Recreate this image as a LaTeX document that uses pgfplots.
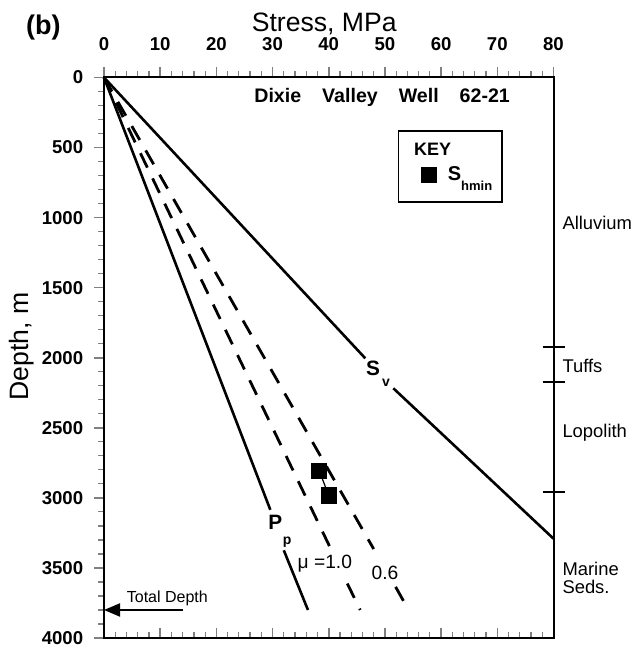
\documentclass[border=0pt]{standalone}
\usepackage{fontspec}
\setmainfont{Liberation Sans}
\usepackage{pgfplots}
\pgfplotsset{compat=1.18}
\usetikzlibrary{arrows.meta}

\begin{document}
\begin{tikzpicture}
\begin{axis}[
  scale only axis,
  width=224.75pt, height=280.25pt,
  xmin=0, xmax=80, ymin=0, ymax=4000,
  y dir=reverse,
  clip=false,
  axis line style={line width=1pt},
  xtick={0,10,...,80}, ytick={0,500,...,4000},
  minor x tick num=4, minor y tick num=4,
  xtick pos=both, xticklabel pos=upper,
  ytick pos=left,
  tick align=center,
  major tick length=5pt, minor tick length=3pt,
  major x tick style={line width=0.8pt, yshift=2.5pt},
  minor x tick style={line width=0.6pt, yshift=1.5pt},
  major y tick style={line width=0.8pt, xshift=-2.5pt},
  minor y tick style={line width=0.6pt, xshift=-1.5pt},
  /pgf/number format/assume math mode=true,
  /pgf/number format/1000 sep={},
  ticklabel style={font=\bfseries\fontsize{9.3}{10}\selectfont},
  xticklabel style={yshift=7.5pt},
  yticklabel style={xshift=-4.4pt},
  xlabel={Stress, MPa},
  ylabel={Depth, m},
  xlabel style={font=\fontsize{13.3}{15}\selectfont, at={(axis description cs:0.49,1.096)}, anchor=center},
  ylabel style={font=\fontsize{13.3}{15}\selectfont, at={(axis description cs:-0.183,0.52)}, anchor=center},
  legend style={draw=black, line width=0.8pt, at={(axis cs:52.3,375)}, anchor=north west,
    font=\bfseries\fontsize{9}{10}\selectfont, inner xsep=3pt, inner ysep=7pt, row sep=3.5pt},
  legend cell align=left,
]
% vertical stress
\addplot[black, line width=1.3pt, forget plot] coordinates {(0,0) (46.5,2004)};
\addplot[black, line width=1.3pt, forget plot] coordinates {(51.5,2218) (80,3291)};
% pore pressure
\addplot[black, line width=1.3pt, forget plot] coordinates {(0,0) (29.6,3085)};
\addplot[black, line width=1.3pt, forget plot] coordinates {(32.0,3374) (36.3,3800)};
% frictional limit, mu = 1.0
\addplot[black, line width=1.4pt, dash pattern=on 8pt off 6pt, forget plot] coordinates {(0,0) (40.4,3367)};
\addplot[black, line width=1.4pt, dash pattern=on 8pt off 6pt, forget plot] coordinates {(43.3,3611) (45.6,3800)};
% frictional limit, mu = 0.6
\addplot[black, line width=1.4pt, dash pattern=on 8pt off 6pt, forget plot] coordinates {(0,0) (48.0,3365)};
\addplot[black, line width=1.4pt, dash pattern=on 8pt off 6pt, forget plot] coordinates {(51.9,3635) (54.2,3800)};

% key
\addlegendimage{legend image code/.code={\node[overlay, anchor=west, inner sep=0pt] at (4pt,0pt) {KEY};}}
\addlegendentry{}
\addplot[black, line width=0.6pt, mark=square*, mark size=3.75pt,
  legend image code/.code={\path (0pt,0pt); \fill (8pt,-3.75pt) rectangle (15.5pt,3.75pt);}]
  coordinates {(38.3,2806) (40.0,2983)};
\addlegendentry{\hspace{3.5pt}\fontsize{10}{10}\selectfont S\raisebox{-5pt}{\fontsize{6.5}{7}\selectfont hmin}\rule[-7pt]{0pt}{1pt}}

% curve labels
\node[font=\bfseries\fontsize{10.4}{11}\selectfont] at (axis cs:47.9,2073) {S};
\node[font=\bfseries\fontsize{7}{8}\selectfont] at (axis cs:50.2,2180) {v};
\node[font=\bfseries\fontsize{10.4}{11}\selectfont] at (axis cs:30.5,3173) {P};
\node[font=\bfseries\fontsize{7}{8}\selectfont] at (axis cs:32.6,3315) {p};
\node[font=\fontsize{9.6}{10}\selectfont] at (axis cs:39.3,3467) {μ =1.0};
\node[font=\fontsize{9.6}{10}\selectfont] at (axis cs:50.0,3538) {0.6};
\node[font=\bfseries\fontsize{9.8}{10}\selectfont] at (axis cs:49.5,140) {Dixie\hspace{10.5pt}Valley\hspace{10.5pt}Well\hspace{10.5pt}62-21};

% total depth
\draw[line width=1pt, -{Triangle[length=8pt, width=6.5pt]}] (axis cs:14.1,3800) -- (axis cs:0,3800);
\node[anchor=south west, inner sep=0pt, font=\fontsize{8}{9}\selectfont] at (axis cs:4.0,3776) {Total Depth};

% formation boundaries
\draw[line width=0.9pt] ([xshift=-5.5pt]axis cs:80,1921) -- ([xshift=5.5pt]axis cs:80,1921);
\draw[line width=0.9pt] ([xshift=-5.5pt]axis cs:80,2175) -- ([xshift=5.5pt]axis cs:80,2175);
\draw[line width=0.9pt] ([xshift=-5.5pt]axis cs:80,2956) -- ([xshift=5.5pt]axis cs:80,2956);
\node[anchor=west, inner sep=0pt, font=\fontsize{9.2}{10}\selectfont] at ([xshift=4.3pt]axis cs:80,1038) {Alluvium};
\node[anchor=west, inner sep=0pt, font=\fontsize{9.2}{10}\selectfont] at ([xshift=4.3pt]axis cs:80,2057) {Tuffs};
\node[anchor=west, inner sep=0pt, font=\fontsize{9.2}{10}\selectfont] at ([xshift=4.3pt]axis cs:80,2537) {Lopolith};
\node[anchor=north west, align=left, inner sep=0pt, font=\fontsize{9.2}{10}\selectfont] at ([xshift=4.3pt, yshift=3.3pt]axis cs:80,3500) {Marine\\[-1pt]Seds.};

\node[font=\bfseries\fontsize{13.5}{15}\selectfont] at (axis description cs:-0.135,1.09) {(b)};
\end{axis}
\pgfresetboundingbox
\path[use as bounding box] ([shift={(-52pt,-6pt)}]current axis.south west) rectangle ([shift={(42.25pt,38.75pt)}]current axis.north east);
\end{tikzpicture}
\end{document}
